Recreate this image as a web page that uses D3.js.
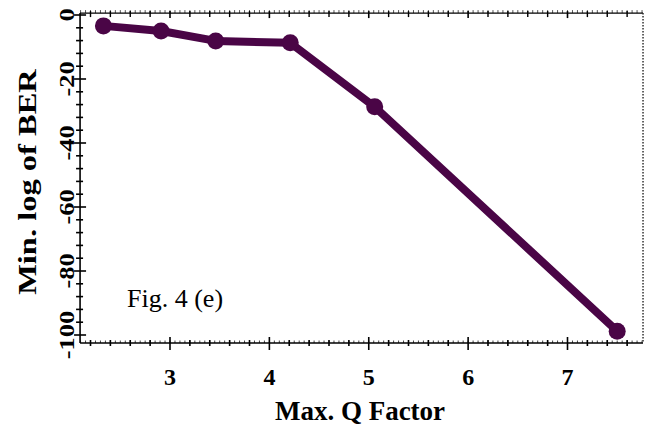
<!DOCTYPE html>
<html>
<head>
<meta charset="utf-8">
<script src="https://cdn.jsdelivr.net/npm/d3@7/dist/d3.min.js"></script>
<style>
  html, body { margin: 0; padding: 0; background: #fff; }
  svg { display: block; }
</style>
</head>
<body>
<script>
// Series: minimum log10(BER) against maximum Q factor
const qFactor   = [2.33, 2.91, 3.46, 4.21, 5.06, 7.50];
const minLogBer = [-3.4, -5.0, -8.1, -8.7, -28.7, -98.8];

// Axis tick labels
const xTickValues = [3, 4, 5, 6, 7];
const yTickValues = [0, -20, -40, -60, -80, -100];

(function () {
  const W = 646, H = 426;
  const serif = "'Liberation Serif', 'Times New Roman', Times, serif";
  const svg = d3.select("body").append("svg")
    .attr("width", W).attr("height", H)
    .attr("font-family", serif);
  svg.append("rect").attr("width", W).attr("height", H).attr("fill", "#fff");

  const x = d3.scaleLinear().domain([3, 7]).range([170, 567.5]);
  const y = d3.scaleLinear().domain([0, -100]).range([15, 335]);

  // Plot frame limits (data units)
  const xMin = 2.095, xMax = 7.76, yTop = 0.6, yBot = -102.5;
  const frameL = x(xMin), frameR = x(xMax), frameT = y(yTop), frameB = y(yBot);

  const ink = "#000";
  const g = svg.append("g");

  // fine ruler marks on top and bottom edges
  const fine = d3.range(2.1, 7.76, 0.05);
  g.selectAll(".fineB").data(fine).join("line")
    .attr("x1", d => x(d)).attr("x2", d => x(d))
    .attr("y1", frameB - 2.5).attr("y2", frameB)
    .attr("stroke", "#444").attr("stroke-width", 1);
  g.selectAll(".fineT").data(fine).join("line")
    .attr("x1", d => x(d)).attr("x2", d => x(d))
    .attr("y1", frameT - 3).attr("y2", frameT)
    .attr("stroke", "#555").attr("stroke-width", 1);

  // bottom axis
  g.append("line").attr("x1", frameL).attr("x2", frameR)
    .attr("y1", frameB).attr("y2", frameB).attr("stroke", ink).attr("stroke-width", 1.6);
  const minorX = d3.range(2.2, 7.7, 0.2).filter(v => Math.abs(v - Math.round(v)) > 0.01);
  g.selectAll(".minX").data(minorX).join("line")
    .attr("x1", d => x(d)).attr("x2", d => x(d))
    .attr("y1", frameB - 3).attr("y2", frameB + 3)
    .attr("stroke", ink).attr("stroke-width", 1.6);
  g.selectAll(".majX").data(xTickValues).join("line")
    .attr("x1", d => x(d)).attr("x2", d => x(d))
    .attr("y1", frameB - 6).attr("y2", frameB + 7)
    .attr("stroke", ink).attr("stroke-width", 1.6);

  // top axis (mirrored ticks)
  g.append("line").attr("x1", frameL).attr("x2", frameR)
    .attr("y1", frameT).attr("y2", frameT).attr("stroke", ink).attr("stroke-width", 1.2);
  g.selectAll(".minT").data(minorX).join("line")
    .attr("x1", d => x(d)).attr("x2", d => x(d))
    .attr("y1", frameT - 2).attr("y2", frameT + 4)
    .attr("stroke", ink).attr("stroke-width", 1.4);
  g.selectAll(".majT").data(xTickValues).join("line")
    .attr("x1", d => x(d)).attr("x2", d => x(d))
    .attr("y1", frameT - 2).attr("y2", frameT + 5)
    .attr("stroke", ink).attr("stroke-width", 1.6);

  // right edge (dotted)
  g.append("line").attr("x1", frameR).attr("x2", frameR)
    .attr("y1", frameT).attr("y2", frameB)
    .attr("stroke", "#333").attr("stroke-width", 1.5).attr("stroke-dasharray", "1.5,1.5");

  // left axis
  g.append("line").attr("x1", frameL).attr("x2", frameL)
    .attr("y1", frameT).attr("y2", frameB).attr("stroke", ink).attr("stroke-width", 1.6);
  const minorY = d3.range(0, -101, -4).filter(v => v % 20 !== 0);
  g.selectAll(".minY").data(minorY).join("line")
    .attr("x1", frameL - 4).attr("x2", frameL + 3)
    .attr("y1", d => y(d)).attr("y2", d => y(d))
    .attr("stroke", ink).attr("stroke-width", 1.6);
  g.selectAll(".majY").data(yTickValues).join("line")
    .attr("x1", frameL - 6).attr("x2", frameL + 6)
    .attr("y1", d => y(d)).attr("y2", d => y(d))
    .attr("stroke", ink).attr("stroke-width", 1.6);

  // tick labels
  g.selectAll(".xl").data(xTickValues).join("text")
    .attr("x", d => x(d)).attr("y", 385)
    .attr("text-anchor", "middle")
    .attr("font-family", serif).attr("font-size", 24).attr("font-weight", "bold")
    .text(d => String(d));

  g.selectAll(".yl").data(yTickValues).join("text")
    .attr("transform", d => `translate(74,${y(d)}) rotate(-90) scale(1.2,1)`)
    .attr("text-anchor", "middle")
    .attr("font-family", serif).attr("font-size", 22).attr("font-weight", "bold")
    .text(d => String(d));

  // axis titles
  svg.append("text")
    .attr("x", 360).attr("y", 420).attr("text-anchor", "middle")
    .attr("font-family", serif).attr("font-size", 27).attr("font-weight", "bold")
    .text("Max. Q Factor");

  svg.append("text")
    .attr("transform", "translate(36,182) rotate(-90) scale(1.25,1)")
    .attr("text-anchor", "middle")
    .attr("font-family", serif).attr("font-size", 26).attr("font-weight", "bold")
    .text("Min. log of BER");

  // panel tag
  svg.append("text")
    .attr("x", 127).attr("y", 307)
    .attr("font-family", serif).attr("font-size", 26)
    .text("Fig. 4 (e)");

  // data line and markers
  const pts = qFactor.map((q, i) => [q, minLogBer[i]]);
  const lineColor = "#4a0546";
  svg.append("path")
    .datum(pts)
    .attr("d", d3.line().x(d => x(d[0])).y(d => y(d[1])))
    .attr("fill", "none").attr("stroke", lineColor)
    .attr("stroke-width", 8).attr("stroke-linejoin", "round");
  svg.selectAll(".pt").data(pts).join("circle")
    .attr("cx", d => x(d[0])).attr("cy", d => y(d[1]))
    .attr("r", 8.5).attr("fill", lineColor);
})();
</script>
</body>
</html>
